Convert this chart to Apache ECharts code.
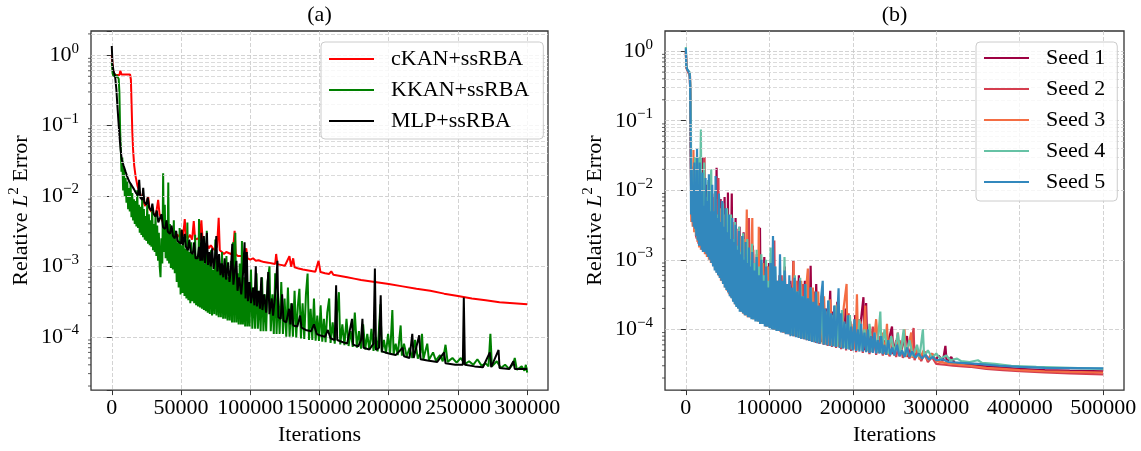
<!DOCTYPE html>
<html>
<head>
<meta charset="utf-8">
<script src="https://cdn.jsdelivr.net/npm/echarts@6/dist/echarts.min.js"></script>
<style>html,body{margin:0;padding:0;background:#fff}#c{width:1141px;height:451px}</style>
</head>
<body>
<div id="c"></div>
<script>
// ---------- DATA: [iteration, relative L2 error] ----------
const panelTitles = ['(a)', '(b)'];
const namesA = ['cKAN+ssRBA', 'KKAN+ssRBA', 'MLP+ssRBA'];
const namesB = ['Seed 1', 'Seed 2', 'Seed 3', 'Seed 4', 'Seed 5'];

const ckanErr = [[0,1.0],[800,0.62],[2000,0.52],[4000,0.52],[5500,0.52],[6200,0.6],[7000,0.53],[10000,0.53],[13200,0.53],[13800,0.45],[14300,0.2],[14800,0.085],[15400,0.045],[16200,0.027],[17200,0.019],[18500,0.014],[20000,0.0115],[21500,0.0095],[23000,0.0082],[24200,0.0072],[25300,0.0068],[26300,0.0098],[27200,0.0066],[28500,0.006],[30000,0.0057],[31500,0.0052],[32500,0.0065],[33500,0.0088],[34500,0.0055],[36000,0.0047],[37500,0.004],[38500,0.0037],[40000,0.0041],[41500,0.0033],[43000,0.0029],[44500,0.003],[46000,0.0027],[47500,0.0028],[49000,0.0026],[50500,0.0033],[51500,0.0027],[52700,0.0047],[53600,0.0027],[55000,0.0025],[56500,0.0028],[58000,0.0024],[59200,0.0044],[60200,0.0024],[62000,0.0025],[63500,0.0023],[64700,0.0045],[65700,0.0022],[67000,0.002],[68500,0.0021],[70000,0.0018],[71500,0.002],[73000,0.0018],[74500,0.0017],[76000,0.0019],[77200,0.0049],[78000,0.0017],[79500,0.0016],[81000,0.0015],[82700,0.0016],[84000,0.0015],[86000,0.0015],[87500,0.0016],[88700,0.0032],[89500,0.0015],[91000,0.0014],[93000,0.0014],[95000,0.0014],[97100,0.0018],[98000,0.0013],[100000,0.00125],[102000,0.0013],[104000,0.0012],[106000,0.00122],[108000,0.00118],[110000,0.00115],[113000,0.00113],[116000,0.0011],[118000,0.00108],[118700,0.0015],[119600,0.00107],[122000,0.00105],[125000,0.00102],[128300,0.0014],[129500,0.00099],[131000,0.0013],[132000,0.00097],[135000,0.00093],[138000,0.0009],[141000,0.00088],[144000,0.00086],[147000,0.00084],[149300,0.0012],[150700,0.00083],[154000,0.0008],[157000,0.00078],[158500,0.00085],[160000,0.00076],[165000,0.00073],[170000,0.0007],[175000,0.00067],[180000,0.00064],[185000,0.00062],[190000,0.0006],[200000,0.00056],[210000,0.00052],[220000,0.00048],[230000,0.00045],[240000,0.00041],[250000,0.00038],[260000,0.00035],[270000,0.00033],[280000,0.00031],[290000,0.0003],[300000,0.00029]];

const kkanErr = [[0,0.8],[600,0.55],[1300,0.5],[2000,0.55],[2800,0.48],[3600,0.52],[4400,0.5],[5000,0.46],[5500,0.3],[6000,0.09],[6500,0.05],[7000,0.022],[7600,0.035],[8200,0.012],[8800,0.025],[9400,0.01],[10000,0.018],[10600,0.008],[11200,0.016],[11800,0.0065],[12400,0.013],[13000,0.006],[13600,0.015],[14200,0.005],[14800,0.011],[15400,0.0045],[16000,0.009],[16600,0.004],[17200,0.0085],[17800,0.0037],[18400,0.012],[19000,0.0035],[19600,0.0075],[20200,0.003],[20800,0.007],[21400,0.0028],[22000,0.0095],[22600,0.0026],[23200,0.0065],[23800,0.0024],[24400,0.0052],[25000,0.0023],[25600,0.0075],[26200,0.0021],[26800,0.0055],[27400,0.002],[28000,0.0045],[28600,0.0019],[29200,0.007],[29800,0.0017],[30400,0.004],[31000,0.0016],[31600,0.0055],[32200,0.0014],[32800,0.0038],[33400,0.0012],[34000,0.003],[34600,0.001],[35200,0.0007],[35800,0.0025],[36500,0.0011],[37100,0.021],[37700,0.0016],[38300,0.0075],[38900,0.0013],[39500,0.0045],[40200,0.0012],[40800,0.0155],[41400,0.0011],[42000,0.004],[42700,0.00095],[43400,0.0032],[44100,0.0009],[44800,0.0045],[45500,0.0008],[46200,0.0026],[46900,0.0006],[47600,0.0022],[48300,0.0005],[49000,0.0035],[49700,0.0004],[50400,0.002],[51100,0.00042],[51800,0.0026],[52500,0.00038],[53200,0.0018],[53900,0.00035],[54600,0.0042],[55300,0.00033],[56000,0.0016],[56700,0.0003],[57400,0.0022],[58100,0.00032],[58800,0.0015],[59500,0.0003],[60200,0.0028],[60900,0.00028],[61600,0.0014],[62300,0.00027],[63000,0.0047],[63700,0.00026],[64400,0.0013],[65100,0.00025],[65800,0.002],[66500,0.00024],[67200,0.0011],[67900,0.00023],[68600,0.0032],[69300,0.00022],[70000,0.0012],[70800,0.00021],[71600,0.0017],[72400,0.0002],[73200,0.0009],[74000,0.00021],[74800,0.0024],[75600,0.0002],[76400,0.0012],[77200,0.00019],[78000,0.0011],[78800,0.00019],[79600,0.0016],[80400,0.00018],[81200,0.0008],[82000,0.00018],[82800,0.0014],[83600,0.00017],[84400,0.0007],[85200,0.00017],[86000,0.0012],[86800,0.00016],[87600,0.0022],[88400,0.00016],[89200,0.003],[90000,0.00016],[90800,0.0008],[91600,0.00015],[92400,0.0011],[93200,0.00015],[94000,0.0023],[94700,0.00015],[95500,0.0007],[96300,0.00014],[97100,0.0012],[97900,0.00014],[98700,0.0006],[99500,0.00014],[100500,0.0009],[101500,0.00013],[102500,0.0005],[103500,0.00013],[104500,0.0008],[105500,0.00013],[106500,0.00045],[107500,0.00012],[108500,0.0007],[109500,0.00012],[110500,0.0004],[111500,0.00012],[112500,0.0006],[113900,0.001],[114800,0.00012],[116000,0.0004],[117000,0.00011],[118000,0.0008],[119000,0.00011],[120000,0.0004],[121200,0.00011],[122400,0.0006],[123600,0.00011],[124800,0.00035],[126000,0.0001],[127200,0.0005],[128400,0.0001],[129600,0.0003],[130800,0.0001],[132000,0.00045],[133200,0.000098],[134400,0.00028],[135500,0.00048],[136600,0.000095],[137800,0.0003],[139000,0.000093],[140200,0.0004],[141400,0.00079],[142400,0.00009],[143600,0.00025],[144800,0.00009],[146000,0.00035],[147200,0.000088],[148400,0.0002],[149600,0.000087],[150800,0.00028],[152000,0.000085],[153200,0.00018],[154400,0.000084],[155600,0.00022],[157000,0.00035],[158000,0.000082],[159500,0.00016],[161000,0.00008],[162500,0.0002],[164000,0.00043],[165000,0.000078],[166500,0.00015],[168000,0.000076],[169500,0.00018],[171000,0.000074],[172500,0.00012],[174000,0.000072],[175500,0.00022],[177000,0.00007],[178500,0.00012],[180000,0.000068],[181500,0.00015],[183000,0.000066],[184500,0.00011],[186000,0.000065],[187500,0.00013],[189000,0.000063],[190500,0.0001],[192000,0.000062],[194000,0.00029],[195000,0.00006],[196500,0.00009],[198000,0.000058],[199500,0.00011],[201000,0.000057],[202600,0.00024],[203500,0.000056],[205000,0.00008],[206500,0.000055],[208600,0.000145],[209500,0.000054],[211000,0.00008],[213000,0.000052],[215000,0.00007],[217000,0.00005],[219000,0.00009],[221000,0.000049],[223000,0.00006],[224000,0.00011],[225000,0.000048],[227800,0.00008],[229000,0.000047],[232000,0.00006],[234000,0.000046],[237000,0.000055],[239000,0.000045],[241000,0.000077],[242500,0.000044],[246000,0.00005],[249000,0.000043],[252000,0.00005],[255000,0.000041],[258000,0.000045],[261000,0.00004],[264000,0.000048],[267000,0.000039],[270000,0.000042],[272000,0.000038],[273400,0.00011],[274500,0.000038],[278000,0.000045],[281000,0.000036],[284000,0.00004],[287000,0.000035],[290000,0.000042],[291000,0.00005],[292500,0.000034],[296000,0.000038],[298000,0.000033],[299000,0.00004],[300000,0.000031]];

const mlpErr = [[0,1.35],[500,0.75],[1200,0.6],[2400,0.5],[3300,0.33],[4000,0.2],[4750,0.12],[5600,0.07],[6400,0.045],[7200,0.033],[8500,0.027],[10000,0.022],[11500,0.018],[13000,0.0155],[14500,0.014],[16000,0.0125],[17500,0.011],[19000,0.0102],[19800,0.017],[20600,0.0095],[22000,0.0088],[22700,0.013],[23500,0.0082],[25000,0.0075],[26000,0.0095],[27000,0.0068],[28500,0.0062],[29300,0.0078],[30200,0.0056],[31500,0.0051],[32500,0.0062],[33600,0.0042],[35000,0.004],[36000,0.0055],[37000,0.0036],[38500,0.0034],[39500,0.0045],[40500,0.0031],[42000,0.0029],[43200,0.0038],[44200,0.0027],[45500,0.0025],[46500,0.0032],[47500,0.0023],[48500,0.0022],[50000,0.0021],[50500,0.0033],[51300,0.002],[52700,0.0029],[53500,0.0019],[55000,0.0017],[56000,0.0024],[57000,0.0016],[58500,0.0015],[59500,0.0022],[60500,0.0013],[62000,0.0013],[63000,0.0019],[64000,0.0012],[64700,0.003],[65500,0.0012],[66500,0.0027],[67300,0.0011],[68700,0.003],[69500,0.00105],[70500,0.0016],[71500,0.001],[72500,0.0018],[73500,0.00092],[74500,0.0013],[75500,0.0027],[76300,0.00085],[77500,0.0015],[78500,0.00075],[79500,0.0011],[80500,0.0007],[81500,0.0013],[82500,0.00065],[84000,0.00114],[85000,0.0006],[86000,0.0009],[87000,0.0021],[87800,0.00055],[89000,0.0009],[90000,0.0012],[90800,0.00045],[92000,0.0007],[93500,0.0004],[94800,0.0008],[95900,0.0022],[96600,0.00035],[97500,0.0016],[98300,0.00032],[99500,0.0006],[100500,0.0003],[102000,0.0005],[103000,0.00028],[104000,0.001],[104800,0.00027],[106000,0.00045],[107000,0.00025],[108000,0.0007],[108800,0.00024],[110000,0.0004],[111500,0.00022],[113000,0.00083],[113800,0.00021],[115500,0.00035],[116500,0.0002],[118500,0.0005],[119600,0.0012],[120300,0.00019],[122000,0.00018],[123000,0.0004],[124000,0.00017],[126000,0.00016],[128000,0.00025],[129000,0.00015],[130000,0.0003],[131000,0.000145],[134000,0.00014],[136000,0.0002],[137000,0.000135],[140000,0.000125],[144000,0.00012],[146000,0.00015],[148000,0.00011],[150000,0.000105],[154000,0.0001],[156000,0.000125],[158000,0.000095],[161000,0.00009],[162000,0.00054],[162800,0.00009],[166000,0.000085],[170000,0.00008],[173500,0.00018],[174300,0.000077],[178000,0.000073],[180000,0.00009],[181000,0.00018],[181800,0.00007],[186000,0.000066],[189000,0.00008],[190000,0.00093],[190800,0.000065],[193000,0.00007],[194200,0.00039],[195000,0.000062],[200000,0.000058],[205000,0.000055],[210000,0.00007],[211000,0.000053],[215000,0.00005],[217000,0.00011],[218000,0.00005],[222000,0.000105],[223000,0.000048],[228000,0.000046],[235000,0.000044],[240000,0.00006],[241000,0.000042],[248000,0.00004],[253500,0.00004],[254200,0.00036],[255000,0.00004],[262000,0.000038],[268000,0.000037],[273000,0.00006],[274000,0.000037],[279300,0.000065],[280000,0.000036],[287000,0.000035],[290000,0.000045],[291000,0.000035],[300000,0.000035]];

const seed1Err = [[0,1.0],[600,0.6],[1600,0.54],[3200,0.5],[4800,0.45],[5400,0.2],[6000,0.03],[6600,0.005],[7600,0.018],[8600,0.0032],[9600,0.011],[10600,0.0027],[11600,0.03],[12600,0.0021],[13600,0.008],[14600,0.0018],[15600,0.02],[16600,0.0016],[17600,0.01],[18600,0.0015],[20000,0.03],[21200,0.0014],[22400,0.008],[23600,0.0013],[24800,0.012],[26000,0.0012],[27200,0.006],[28400,0.0011],[29600,0.011],[30800,0.001],[32000,0.005],[33200,0.0009],[34400,0.008],[35600,0.0008],[36800,0.021],[38000,0.00072],[39200,0.004],[40400,0.00062],[41600,0.0075],[42800,0.00055],[44000,0.0035],[45200,0.0005],[46400,0.008],[47600,0.00042],[48800,0.003],[50000,0.00038],[50400,0.0093],[51200,0.00036],[52400,0.0025],[53600,0.00033],[55000,0.009],[56000,0.0003],[57200,0.002],[58400,0.00027],[59600,0.004],[60800,0.00024],[62000,0.0016],[63200,0.00022],[64400,0.003],[65600,0.0002],[66800,0.0013],[68000,0.00019],[69200,0.0025],[70400,0.00018],[71800,0.0011],[73200,0.00017],[74600,0.002],[76000,0.00016],[77400,0.0009],[78800,0.00016],[80200,0.0016],[81600,0.00015],[83000,0.0008],[84400,0.00014],[85800,0.0012],[87200,0.00014],[88800,0.0029],[89800,0.00013],[91200,0.0007],[92600,0.00013],[94000,0.0011],[95400,0.00012],[96800,0.0005],[98200,0.00012],[99600,0.0009],[101000,0.00011],[102600,0.0004],[104200,0.00011],[105800,0.0007],[107400,0.0001],[109000,0.00035],[110600,0.0001],[112200,0.0006],[113800,0.000098],[115400,0.0003],[117000,0.000095],[118600,0.0008],[120200,0.000092],[121800,0.00028],[123400,0.00009],[125000,0.0005],[126600,0.000088],[128800,0.00096],[130000,0.000085],[131800,0.0004],[133600,0.000082],[135400,0.0006],[137200,0.00008],[139000,0.00035],[140800,0.000078],[142600,0.0005],[144400,0.000076],[146200,0.0003],[148000,0.000074],[149500,0.00082],[150800,0.000072],[152600,0.00028],[154400,0.00007],[156200,0.00045],[158000,0.000068],[160000,0.00024],[162000,0.000066],[164000,0.00035],[166000,0.000064],[168000,0.0002],[170000,0.000062],[173000,0.00036],[174200,0.00006],[176500,0.00018],[179000,0.000059],[181500,0.00025],[184000,0.000058],[186500,0.00015],[189000,0.000056],[191500,0.0002],[194000,0.000055],[197000,0.00013],[200000,0.000053],[203000,0.00016],[206000,0.000052],[209000,0.00011],[212800,0.00029],[214000,0.00005],[216000,0.00024],[217500,0.00005],[220000,0.0001],[222500,0.000048],[225000,0.00009],[228000,0.000047],[231000,0.00008],[234000,0.000046],[237000,0.00007],[240000,0.000045],[243000,0.00007],[247000,0.00011],[248500,0.000044],[252000,0.00007],[256000,0.000042],[260000,0.00006],[265000,0.00008],[266500,0.00004],[270000,0.000055],[274000,0.000039],[278000,0.00005],[282000,0.000038],[286000,0.000048],[290000,0.000037],[295000,0.000045],[299000,0.000036],[303000,0.000042],[308000,0.000035],[311000,0.000058],[312500,0.000034],[318000,0.00004],[322000,0.000033],[335000,0.000032],[350000,0.00003],[370000,0.000029],[400000,0.000027],[430000,0.000026],[460000,0.0000255],[500000,0.000025]];

const seed2Err = [[0,0.95],[700,0.58],[1800,0.53],[3400,0.5],[5000,0.44],[5600,0.12],[6200,0.012],[7000,0.0042],[8000,0.022],[9000,0.0033],[10000,0.009],[11000,0.0026],[12000,0.018],[13000,0.002],[14000,0.007],[15000,0.0017],[16000,0.012],[17000,0.0016],[18000,0.006],[19000,0.0015],[20200,0.011],[21400,0.0014],[22400,0.03],[23400,0.0013],[24600,0.007],[25800,0.0012],[27000,0.013],[28200,0.0011],[29400,0.005],[30600,0.001],[31800,0.009],[33000,0.0009],[34200,0.004],[35400,0.0008],[36600,0.0075],[37800,0.0007],[39000,0.015],[40200,0.0006],[41400,0.0035],[42600,0.00055],[43800,0.006],[45000,0.00048],[46200,0.0028],[47400,0.00042],[48600,0.005],[49800,0.00037],[51000,0.0022],[52200,0.00033],[53400,0.0042],[54600,0.0003],[55800,0.0019],[57000,0.00026],[58200,0.0035],[59400,0.00023],[60600,0.0015],[61800,0.00021],[63000,0.0028],[64200,0.0002],[65400,0.0012],[66600,0.00019],[67800,0.0022],[69000,0.00017],[70200,0.001],[71400,0.00016],[72800,0.0018],[74200,0.00016],[75600,0.004],[76600,0.00015],[78000,0.0009],[79400,0.00015],[80800,0.0014],[82200,0.00014],[83600,0.0007],[85000,0.00014],[86400,0.0011],[87800,0.00013],[89200,0.0006],[90600,0.00012],[92000,0.0009],[93400,0.00012],[94800,0.00045],[96200,0.00011],[97600,0.0008],[99000,0.00011],[100400,0.0004],[101800,0.000105],[103200,0.0007],[104600,0.0001],[106000,0.0019],[107000,0.0001],[108500,0.0005],[110000,0.000095],[111600,0.0003],[113200,0.000093],[114800,0.0006],[116400,0.00009],[118000,0.00027],[119600,0.000088],[121200,0.00045],[122800,0.000085],[124400,0.00022],[126000,0.000083],[127600,0.00038],[129200,0.00008],[130800,0.0003],[132400,0.000078],[134000,0.0005],[135600,0.000076],[137200,0.00028],[138800,0.000074],[140400,0.00045],[142000,0.000072],[143600,0.00025],[145200,0.00007],[146800,0.0004],[148400,0.000068],[150000,0.00022],[152000,0.000066],[154000,0.00035],[156000,0.000064],[158000,0.0002],[160000,0.000062],[162500,0.0003],[165000,0.00006],[167500,0.00018],[170000,0.000058],[172500,0.00025],[175000,0.000056],[177500,0.00015],[180000,0.000054],[183000,0.0002],[186000,0.000052],[189000,0.00013],[192000,0.00005],[195000,0.00017],[198000,0.000049],[201000,0.00011],[204000,0.000047],[208000,0.00014],[212000,0.000046],[216000,0.00009],[220000,0.000044],[224000,0.00011],[228000,0.000043],[232000,0.00008],[236000,0.000042],[240000,0.00007],[244000,0.000041],[248000,0.00006],[252000,0.00004],[256000,0.00007],[260000,0.000039],[264000,0.000055],[268000,0.000038],[272900,0.000105],[274000,0.000036],[278000,0.00005],[282000,0.000035],[286000,0.000045],[290000,0.000034],[295000,0.00004],[300000,0.000032],[310000,0.000031],[320000,0.00003],[340000,0.000029],[360000,0.000027],[380000,0.000026],[400000,0.000025],[430000,0.000024],[460000,0.0000232],[500000,0.0000225]];

const seed3Err = [[0,1.0],[500,0.6],[1400,0.55],[3000,0.52],[4600,0.47],[5300,0.25],[5900,0.04],[6500,0.0035],[7300,0.015],[8200,0.003],[9100,0.038],[10000,0.0025],[11000,0.015],[12000,0.0022],[13000,0.025],[14000,0.0018],[15000,0.009],[16000,0.0015],[17000,0.015],[18000,0.0014],[19200,0.006],[20400,0.0013],[21600,0.012],[22800,0.0012],[24000,0.005],[25200,0.0011],[26400,0.009],[27600,0.001],[28800,0.004],[30000,0.0009],[31200,0.008],[32400,0.00085],[33600,0.0035],[34800,0.00075],[36000,0.006],[37200,0.00065],[38400,0.003],[39600,0.00058],[40800,0.0055],[42000,0.0005],[43200,0.0025],[44400,0.00046],[45600,0.0045],[46800,0.0004],[48000,0.002],[49200,0.00036],[50400,0.0038],[51600,0.00032],[52800,0.0017],[54000,0.00029],[55200,0.0032],[56400,0.00026],[57600,0.0015],[58800,0.00023],[60000,0.0027],[61200,0.00021],[62400,0.0012],[63600,0.0002],[64800,0.0022],[66000,0.00018],[67200,0.001],[68400,0.00017],[69600,0.002],[70800,0.00016],[72000,0.0009],[73000,0.0053],[74000,0.00015],[75400,0.0012],[76800,0.00015],[78200,0.0008],[79600,0.004],[80600,0.00014],[82000,0.0007],[83400,0.00014],[84800,0.0012],[86200,0.00013],[87400,0.003],[88400,0.00013],[89800,0.0006],[91200,0.00012],[92600,0.0009],[94000,0.00012],[95400,0.0005],[96800,0.00011],[98200,0.0008],[99600,0.00011],[101000,0.0004],[102400,0.000105],[103800,0.0006],[105200,0.0001],[106600,0.00035],[108000,0.0001],[109400,0.0005],[110800,0.000095],[112200,0.0003],[113600,0.000093],[115000,0.00045],[116400,0.00009],[117800,0.00025],[119200,0.000088],[120600,0.0004],[122000,0.000086],[123400,0.00022],[124800,0.000084],[126200,0.00035],[127600,0.000082],[129000,0.00095],[130200,0.00008],[131800,0.0005],[133400,0.000078],[135000,0.0003],[136600,0.000076],[138200,0.0005],[139800,0.000074],[141400,0.00028],[143000,0.000072],[144600,0.00045],[146200,0.00075],[147400,0.00007],[149000,0.00025],[150600,0.000068],[152200,0.0004],[153800,0.000066],[155400,0.00022],[157000,0.000065],[158600,0.00035],[160200,0.000064],[162000,0.0002],[163800,0.000062],[165600,0.0003],[167400,0.00006],[169200,0.00018],[171000,0.000059],[173000,0.00027],[175000,0.000058],[177000,0.00016],[179000,0.000057],[181000,0.00023],[183000,0.000056],[185000,0.00014],[187000,0.000055],[189000,0.0002],[192600,0.00045],[193600,0.000053],[196000,0.00015],[198500,0.000052],[201000,0.00012],[203000,0.000051],[205000,0.00032],[206500,0.00005],[209000,0.00013],[212000,0.000049],[215000,0.00022],[216500,0.000048],[220000,0.00011],[224000,0.000047],[228000,0.00014],[231000,0.000046],[235000,0.00009],[238000,0.000044],[241000,0.00012],[242500,0.000043],[246000,0.00008],[250000,0.000042],[254000,0.00009],[256000,0.000041],[260000,0.00007],[262000,0.0001],[263500,0.00004],[267000,0.00006],[270000,0.00009],[271500,0.000039],[276000,0.000055],[280000,0.000037],[285000,0.00005],[290000,0.000036],[295000,0.000045],[300000,0.000035],[310000,0.000033],[320000,0.000032],[340000,0.00003],[360000,0.000028],[380000,0.000027],[400000,0.000026],[430000,0.000025],[460000,0.0000245],[500000,0.000024]];

const seed4Err = [[0,1.15],[500,0.65],[1500,0.55],[3000,0.52],[4500,0.5],[5300,0.35],[6000,0.08],[6700,0.006],[7500,0.02],[8400,0.004],[9300,0.014],[10200,0.003],[11100,0.03],[12000,0.0025],[13000,0.012],[14000,0.002],[15000,0.03],[16000,0.0018],[17000,0.01],[18000,0.075],[18800,0.002],[19800,0.012],[20800,0.0016],[22000,0.025],[23200,0.0014],[24400,0.008],[25600,0.0013],[26800,0.014],[28000,0.0012],[29200,0.006],[30400,0.02],[31400,0.0011],[32600,0.005],[33800,0.0009],[35000,0.01],[36200,0.0008],[37400,0.0045],[38600,0.0007],[39800,0.008],[41000,0.0006],[42200,0.0035],[43400,0.00052],[44600,0.0065],[45800,0.00046],[47000,0.003],[48200,0.0004],[49400,0.0055],[50600,0.00036],[51800,0.0025],[53000,0.00032],[54200,0.0045],[55400,0.00028],[56600,0.002],[57800,0.00025],[59000,0.0035],[60200,0.00022],[61400,0.0016],[62600,0.0002],[63800,0.003],[65000,0.00019],[66200,0.0013],[67400,0.00018],[68600,0.0024],[69800,0.00017],[71000,0.0011],[72200,0.00016],[73600,0.002],[75000,0.00016],[76400,0.001],[77800,0.00015],[79200,0.0017],[80600,0.00014],[82000,0.0009],[83400,0.00014],[84800,0.0014],[86200,0.00013],[87600,0.0008],[89000,0.00013],[90400,0.0012],[91800,0.00012],[93200,0.0006],[94600,0.00012],[96000,0.001],[97400,0.00011],[98800,0.0005],[100200,0.00011],[101600,0.0015],[102800,0.000105],[104200,0.0004],[105600,0.0001],[107000,0.0008],[108400,0.0001],[109800,0.00035],[111200,0.000097],[112600,0.0006],[114000,0.000094],[115400,0.0003],[116800,0.000092],[118200,0.0011],[119400,0.00009],[121000,0.00028],[122600,0.000087],[124200,0.00045],[125800,0.000085],[127400,0.00025],[129000,0.000082],[130600,0.0006],[132200,0.00008],[133800,0.00035],[135400,0.000078],[137000,0.00055],[138600,0.000076],[140200,0.0003],[141800,0.000074],[143400,0.00045],[145000,0.000072],[146600,0.00026],[148200,0.00007],[149800,0.0004],[151400,0.000068],[153000,0.00023],[154600,0.000067],[156200,0.00034],[157800,0.000066],[159400,0.0002],[161000,0.000064],[163000,0.0003],[165000,0.000062],[167000,0.00018],[169000,0.00006],[171000,0.00026],[173000,0.000059],[175000,0.00016],[177000,0.000058],[179000,0.00022],[181000,0.000057],[183000,0.00014],[185000,0.000055],[187000,0.00019],[189000,0.000054],[191500,0.00012],[194000,0.000053],[196500,0.00016],[199000,0.000052],[202000,0.00011],[205000,0.000051],[208000,0.00014],[211000,0.00005],[214000,0.0001],[217000,0.000049],[220000,0.00012],[223000,0.000048],[226000,0.00009],[229000,0.000047],[233000,0.00018],[234500,0.000046],[238000,0.0001],[242000,0.000045],[246000,0.00008],[250000,0.000044],[254000,0.00009],[257000,0.000043],[261000,0.0001],[263000,0.000042],[268000,0.00007],[272000,0.000041],[277000,0.00006],[280000,0.00004],[284000,0.0001],[285500,0.00004],[290000,0.00005],[295000,0.000039],[300000,0.000045],[305000,0.000038],[312000,0.000042],[317000,0.000036],[325000,0.000038],[330000,0.000035],[340000,0.000034],[350000,0.000036],[355000,0.000033],[370000,0.000032],[390000,0.00003],[420000,0.000029],[460000,0.000028],[500000,0.000027]];

const seed5Err = [[0,1.1],[500,0.62],[1500,0.55],[3000,0.52],[4500,0.48],[5200,0.3],[5700,0.06],[6200,0.0045],[7000,0.02],[7800,0.0035],[8600,0.012],[9400,0.003],[10200,0.025],[11000,0.0028],[11800,0.009],[12600,0.0022],[13400,0.04],[14200,0.0019],[15000,0.012],[15800,0.0016],[16600,0.025],[17400,0.0016],[18200,0.008],[19000,0.0014],[19800,0.018],[20600,0.0013],[21600,0.006],[22600,0.0013],[23600,0.015],[24600,0.0012],[25600,0.007],[26600,0.0011],[27600,0.017],[28600,0.001],[29600,0.005],[30600,0.0009],[31600,0.012],[32600,0.0008],[33600,0.005],[34600,0.0007],[35600,0.016],[36600,0.00065],[37600,0.004],[38600,0.0006],[39600,0.009],[40600,0.00055],[41600,0.0035],[42600,0.0005],[43600,0.007],[44600,0.00045],[45600,0.003],[46600,0.0004],[47600,0.0055],[48600,0.00037],[49600,0.0025],[50600,0.00034],[51600,0.0045],[52600,0.0003],[53600,0.002],[54600,0.00028],[55600,0.004],[56600,0.00025],[57600,0.0018],[58600,0.00023],[59600,0.0032],[60600,0.00021],[61600,0.0014],[62600,0.0002],[63600,0.0026],[64600,0.00018],[65600,0.0012],[66600,0.00018],[67600,0.0022],[68600,0.00017],[69600,0.001],[70600,0.00016],[71600,0.0018],[72600,0.00016],[73600,0.0009],[74600,0.00015],[75600,0.0015],[76600,0.00015],[77600,0.0008],[78600,0.00014],[79600,0.0013],[80600,0.00014],[82000,0.0007],[83400,0.00013],[84800,0.0011],[86200,0.00013],[87600,0.0006],[89000,0.00012],[90400,0.001],[91800,0.00012],[93200,0.0005],[94600,0.00011],[96000,0.0008],[97400,0.00011],[98800,0.0004],[100200,0.000105],[101600,0.0009],[103000,0.0001],[104400,0.0022],[105800,0.0001],[107200,0.0008],[108600,0.000095],[110000,0.0005],[111400,0.000095],[112800,0.0012],[114200,0.00009],[115600,0.0005],[117000,0.00009],[118400,0.0007],[119800,0.000085],[121200,0.00045],[122600,0.000085],[124000,0.0006],[125400,0.00008],[127000,0.0004],[128600,0.00008],[130200,0.00055],[131800,0.000077],[133400,0.00035],[135000,0.000075],[136600,0.0005],[138200,0.000073],[139800,0.0003],[141400,0.000072],[143000,0.00045],[144600,0.00007],[146200,0.00028],[147800,0.000068],[149400,0.0004],[151000,0.000066],[152600,0.00025],[154200,0.000065],[155800,0.00035],[157400,0.000063],[159000,0.00022],[160600,0.000062],[162200,0.0003],[164000,0.0005],[165200,0.00006],[167000,0.0002],[168800,0.000059],[170600,0.00026],[172400,0.000058],[174200,0.00017],[176000,0.000057],[177800,0.00022],[179600,0.000056],[181400,0.00015],[183000,0.00039],[184200,0.000054],[186000,0.00017],[188000,0.000053],[190000,0.00013],[192000,0.000052],[194000,0.00016],[196000,0.000051],[198000,0.00011],[200000,0.00005],[202000,0.00014],[204000,0.000049],[206000,0.0001],[208000,0.000048],[210000,0.00012],[212000,0.000048],[214000,0.00009],[216000,0.000047],[218000,0.0001],[220000,0.000046],[222000,0.00008],[224000,0.000046],[226000,0.00009],[228000,0.000045],[230000,0.00007],[232000,0.000045],[234000,0.00008],[236000,0.000044],[238000,0.00006],[240000,0.000043],[242500,0.00007],[245000,0.000043],[247500,0.000055],[250000,0.000042],[253000,0.00006],[256000,0.000041],[259000,0.00005],[262000,0.00004],[265000,0.000055],[268000,0.00004],[271000,0.000048],[275000,0.000039],[279000,0.000045],[283000,0.000038],[287000,0.000043],[291000,0.000037],[296000,0.00004],[300000,0.000036],[308000,0.000037],[315000,0.000034],[330000,0.000033],[350000,0.000032],[375000,0.00003],[400000,0.000029],[430000,0.000028],[460000,0.0000278],[500000,0.0000275]];

// ---------- STYLE ----------
const FONT = '"Liberation Serif", "Times New Roman", serif';
const FS = 22;
const colorsA = ['#ff0000', '#008000', '#000000'];
const colorsB = ['#9e0142', '#d53e4f', '#f46d43', '#66c2a5', '#3288bd'];
const gridBoxes = [
  {left: 91, top: 31, width: 457, height: 361},
  {left: 665, top: 31, width: 459, height: 361}
];
const xRanges = [[-15000, 315000], [-25000, 525000]];
const yRanges = [[1.75e-5, 2.2], [1.34e-5, 1.95]];

function minorValues(lo, hi) {
  const out = [];
  for (let e = -7; e <= 1; e++) {
    for (let k = 2; k <= 9; k++) {
      const v = k * Math.pow(10, e);
      if (v > lo && v < hi) out.push(v);
    }
  }
  return out;
}
function sup(n) { return n < 0 ? '\u2212' + (-n) : String(n); }
function logLabel(v) {
  const l = Math.log10(v);
  const e = Math.round(l);
  if (Math.abs(l - e) > 1e-6) return '';
  return '{b|10}{s|' + sup(e) + '}';
}
const labelRich = {
  b: {fontFamily: FONT, fontSize: FS, color: '#000', lineHeight: 28},
  s: {fontFamily: FONT, fontSize: 15, color: '#000', lineHeight: 15, verticalAlign: 'top'}
};
const nameRich = {
  n: {fontFamily: FONT, fontSize: FS, color: '#000', lineHeight: 28},
  i: {fontFamily: FONT, fontSize: FS, fontStyle: 'italic', color: '#000', lineHeight: 28},
  s: {fontFamily: FONT, fontSize: 15, color: '#000', lineHeight: 15, verticalAlign: 'top'}
};
const gridLine = {color: '#c8c8c8', type: [4, 2], width: 0.8};

const xAxes = [0, 1].map(i => ({
  type: 'value', gridIndex: i, min: xRanges[i][0], max: xRanges[i][1],
  name: 'Iterations', nameLocation: 'middle', nameGap: 31,
  nameTextStyle: {fontFamily: FONT, fontSize: FS, color: '#000'},
  axisLine: {show: false},
  axisTick: {show: true, length: 5, lineStyle: {color: '#333', width: 1}},
  axisLabel: {fontFamily: FONT, fontSize: FS, color: '#000', margin: 7,
    showMinLabel: false, showMaxLabel: false, formatter: v => String(v)},
  splitLine: {show: true, showMinLine: false, showMaxLine: false, lineStyle: gridLine}
}));
const yAxes = [0, 1].map(i => ({
  type: 'log', logBase: 10, gridIndex: i, min: yRanges[i][0], max: yRanges[i][1],
  name: '{n|Relative }{i|L}{s|2}{n| Error}', nameLocation: 'middle', nameRotate: 90,
  nameGap: 56, nameTextStyle: {rich: nameRich},
  axisLine: {show: false},
  axisTick: {show: true, length: 5, lineStyle: {color: '#333', width: 1}},
  axisLabel: {margin: 12, formatter: logLabel, rich: labelRich},
  splitLine: {show: true, showMinLine: false, showMaxLine: false, lineStyle: gridLine}
}));

function lineSeries(name, data, color, gi, w) {
  return {
    name: name, type: 'line', data: data, xAxisIndex: gi, yAxisIndex: gi,
    showSymbol: false, symbol: 'none', z: 3,
    lineStyle: {color: color, width: w}, itemStyle: {color: color},
    emphasis: {disabled: true}
  };
}
function gridSeries(gi) {
  return {
    type: 'line', data: [], xAxisIndex: gi, yAxisIndex: gi, silent: true, z: 1,
    markLine: {
      silent: true, symbol: ['none', 'none'], animation: false,
      label: {show: false},
      lineStyle: {color: '#d2d2d2', type: [4, 2], width: 0.8},
      data: minorValues(yRanges[gi][0], yRanges[gi][1]).map(v => ({yAxis: v}))
    }
  };
}

const seriesA = [ckanErr, kkanErr, mlpErr].map((d, k) => lineSeries(namesA[k], d, colorsA[k], 0, 2));
const seriesB = [seed1Err, seed2Err, seed3Err, seed4Err, seed5Err].map((d, k) => lineSeries(namesB[k], d, colorsB[k], 1, 2.2));

const legendCommon = {
  orient: 'vertical', icon: 'rect', itemWidth: 45, itemHeight: 2.2, itemGap: 7, z: 50,
  textStyle: {fontFamily: FONT, fontSize: FS, color: '#000', lineHeight: 24, padding: [0, 0, 0, 12]},
  backgroundColor: 'rgba(255,255,255,0.8)', borderColor: '#cccccc', borderWidth: 1, borderRadius: 4,
  selectedMode: false
};

const option = {
  animation: false,
  backgroundColor: '#ffffff',
  grid: gridBoxes.map(g => Object.assign({show: true, borderColor: '#333', borderWidth: 1.3, backgroundColor: 'transparent', containLabel: false}, g)),
  xAxis: xAxes,
  yAxis: yAxes,
  legend: [
    Object.assign({}, legendCommon, {data: namesA, left: 321, top: 42, padding: [5, 14, 6, 8]}),
    Object.assign({}, legendCommon, {data: namesB, left: 976, top: 42, padding: [4, 12, 7, 8]})
  ],
  graphic: panelTitles.map((t, i) => ({
    type: 'text', x: gridBoxes[i].left + gridBoxes[i].width / 2, y: 15,
    style: {text: t, font: FS + 'px ' + FONT, fill: '#000', textAlign: 'center', textVerticalAlign: 'middle'}
  })),
  series: [gridSeries(0), gridSeries(1)].concat(seriesA, seriesB)
};

const chart = echarts.init(document.getElementById('c'), null, {renderer: 'canvas'});
chart.setOption(option);

// minor ticks on the log y-axes, placed through the chart's own scales
const minorTicks = [];
[0, 1].forEach(gi => {
  minorValues(yRanges[gi][0], yRanges[gi][1]).forEach(v => {
    const p = chart.convertToPixel({gridIndex: gi}, [xRanges[gi][0], v]);
    minorTicks.push({
      type: 'line', silent: true, z: 10,
      shape: {x1: p[0] - 3, y1: p[1], x2: p[0], y2: p[1]},
      style: {stroke: '#333', lineWidth: 0.8}
    });
  });
});
chart.setOption({graphic: option.graphic.concat(minorTicks)});
</script>
</body>
</html>
